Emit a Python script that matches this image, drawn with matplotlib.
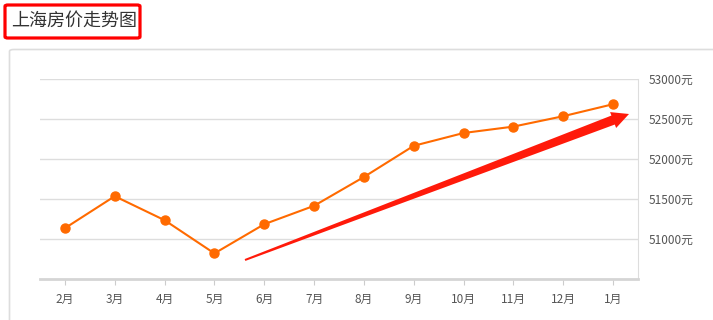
import matplotlib
matplotlib.use("Agg")
import matplotlib.pyplot as plt
from matplotlib.patches import FancyBboxPatch, Polygon
import numpy as np

plt.rcParams['font.family'] = ['Noto Sans CJK SC', 'DejaVu Sans']

months = ["2月", "3月", "4月", "5月", "6月", "7月", "8月", "9月", "10月", "11月", "12月", "1月"]
prices = [51135, 51535, 51235, 50820, 51185, 51415, 51775, 52165, 52325, 52405, 52535, 52685]
y_ticks = [51000, 51500, 52000, 52500, 53000]
y_labels = [f"{v}元" for v in y_ticks]

W, H = 713, 320
fig = plt.figure(figsize=(W / 100, H / 100), dpi=100)

# pixel coords (top-left origin) -> figure fraction
def px(x, y):
    return x / W, 1 - y / H

# card border
card = FancyBboxPatch(px(9.5, 330)[0:1] + (1 - 330 / H,), (730 - 9.5) / W, (330 - 49.5) / H,
                      boxstyle="round,pad=0,rounding_size=0.006", transform=fig.transFigure,
                      fill=False, edgecolor="#dddddd", linewidth=1.2)
fig.patches.append(card)

# title with red box
fig.text(px(11, 21)[0], px(11, 21)[1], "上海房价走势图", fontsize=13, color="#333333",
         va="center", ha="left")
tbox = FancyBboxPatch(px(5, 38), 135 / W, 33 / H,
                      boxstyle="round,pad=0,rounding_size=0.004", transform=fig.transFigure,
                      fill=False, edgecolor="#ff0000", linewidth=2.3)
fig.patches.append(tbox)

l, b = px(40, 279)
r, t = px(638, 79)
ax = fig.add_axes([l, b, r - l, t - b])
x = np.arange(len(months))
ax.plot(x, prices, color="#ff6a00", linewidth=1.5, marker="o", markersize=6.5, zorder=3)

ax.set_xlim(-0.5, len(months) - 0.5)
ax.set_ylim(50500, 53000)
ax.set_xticks(x)
ax.set_xticklabels(months, fontsize=8.5, color="#555555")
ax.set_yticks(y_ticks)
ax.set_yticklabels(y_labels, fontsize=8.5, color="#555555")
ax.yaxis.tick_right()
ax.tick_params(axis="y", length=0, pad=8)
ax.tick_params(axis="x", length=4, color="#cccccc", pad=6)
ax.grid(axis="y", color="#dddddd", linewidth=1)
ax.set_axisbelow(True)
for s in ["top", "left"]:
    ax.spines[s].set_visible(False)
ax.spines["right"].set_color("#dddddd")
ax.spines["bottom"].set_color("#d5d5d5")
ax.spines["bottom"].set_linewidth(2)

# red trend arrow (pixel coords)
tail = np.array([245.0, 260.0])
tip = np.array([629.0, 114.0])
u = (tip - tail) / np.linalg.norm(tip - tail)
n = np.array([u[1], -u[0]]) * -1
hl, hw, sw0, sw1 = 17, 8.5, 1.0, 4.8
base = tip - hl * u
pts = [tail + sw0 * n, base + sw1 * n, base + hw * n, tip, base - hw * n, base - sw1 * n, tail - sw0 * n]
pts = [px(p[0], p[1]) for p in pts]
fig.patches.append(Polygon(pts, closed=True, transform=fig.transFigure,
                           facecolor="#ff1a0a", edgecolor="none", zorder=5))

fig.savefig("out.png", dpi=100)
